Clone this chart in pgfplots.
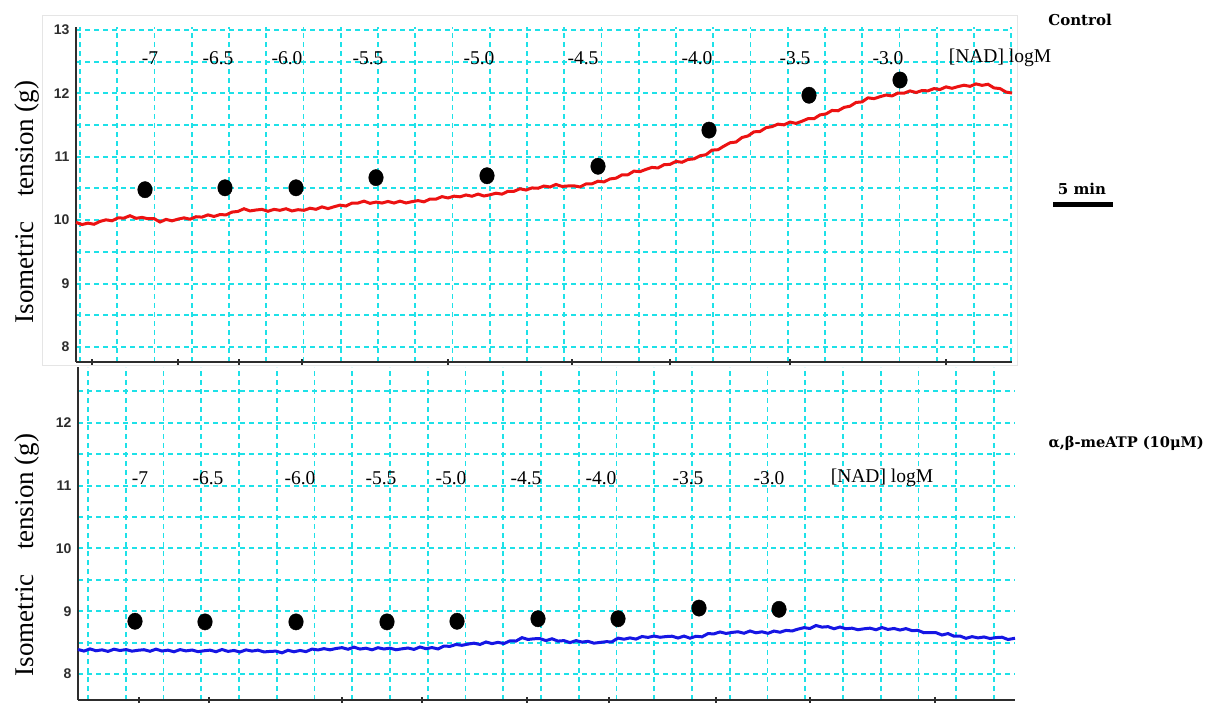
\documentclass[border=0pt]{standalone}
\usepackage{fontspec}
\setmainfont{Liberation Serif}
\newfontfamily\ticksans{Liberation Sans}
\newfontfamily\headserif{DejaVu Serif}
\usepackage{graphicx}
\usepackage{pgfplots}
\pgfplotsset{compat=1.18}

\definecolor{gridcyan}{RGB}{30,225,232}
\definecolor{tracered}{RGB}{236,18,18}
\definecolor{traceblue}{RGB}{22,22,228}
\definecolor{axisgray}{RGB}{45,45,45}

\newcommand{\conc}{\fontsize{19.5}{19.5}\selectfont}

\pgfplotsset{
  tracepanel/.style={
    scale only axis,
    clip=false,
    axis x line*=bottom,
    axis y line*=left,
    axis line style={axisgray, line width=1.7pt},
    xmin=0,
    tick align=center,
    major tick length=6pt,
    minor tick length=0pt,
    xtick style={axisgray, line width=1.8pt},
    ytick style={draw=none},
    xticklabels={},
    xmajorgrids=false, xminorgrids=true,
    ymajorgrids=true, yminorgrids=true,
    major grid style={gridcyan, line width=1.9pt, dash pattern=on 5pt off 4pt},
    minor grid style={gridcyan, line width=1.9pt, dash pattern=on 5pt off 4pt},
    /pgf/number format/assume math mode=true,
    yticklabel style={font=\ticksans\bfseries\fontsize{14}{14}\selectfont, text=axisgray},
  },
  dots/.style={only marks, mark=*, mark size=7.3pt,
    mark options={fill=black, draw=black, yscale=1.12}},
}

\begin{document}
\begin{tikzpicture}
\useasboundingbox (0,0) rectangle (1206pt,707pt);

% faint frame of the upper recording
\draw[black!10, line width=0.8pt] (42pt,342pt) rectangle (1017pt,692pt);

% ---------------- Control ----------------
\begin{axis}[tracepanel,
  at={(76pt,345pt)}, anchor=south west,
  width=936pt, height=335pt,
  xmax=936, ymin=7.763, ymax=13.047,
  ytick={8,9,10,11,12,13},
  minor ytick={8.5,9.5,10.5,11.5,12.5},
  xtick={16,102,163,226,372,496,594,714,870},
  minor xtick={4,41.25,...,936},
]
\addplot[tracered, line width=3pt] coordinates {
(0,9.965) (6,9.931) (12,9.953) (18,9.935) (24,9.980) (30,10.005) (36,9.990)
(42,10.035) (48,10.033) (54,10.070) (60,10.029) (66,10.043) (72,10.022)
(78,10.025) (84,9.970) (90,10.012) (96,9.989) (102,10.016) (108,10.036)
(114,10.015) (120,10.054) (126,10.048) (132,10.083) (138,10.058) (144,10.088)
(150,10.083) (156,10.127) (162,10.138) (168,10.180) (174,10.145) (180,10.160)
(186,10.170) (192,10.140) (198,10.170) (204,10.155) (210,10.180) (216,10.145)
(222,10.165) (228,10.155) (234,10.188) (240,10.171) (246,10.209) (252,10.182)
(258,10.211) (264,10.237) (270,10.223) (276,10.269) (282,10.270) (288,10.300)
(294,10.265) (300,10.285) (306,10.270) (312,10.295) (318,10.270) (324,10.300)
(330,10.271) (336,10.292) (342,10.308) (348,10.289) (354,10.333) (360,10.332)
(366,10.371) (372,10.350) (378,10.378) (384,10.368) (390,10.397) (396,10.377)
(402,10.411) (408,10.381) (414,10.400) (420,10.425) (426,10.410) (432,10.455)
(438,10.455) (444,10.495) (450,10.475) (456,10.508) (462,10.503) (468,10.538)
(474,10.523) (480,10.563) (486,10.532) (492,10.539) (498,10.541) (504,10.524)
(510,10.571) (516,10.573) (522,10.614) (528,10.603) (534,10.650) (540,10.662)
(546,10.714) (552,10.716) (558,10.773) (564,10.765) (570,10.801) (576,10.832)
(582,10.823) (588,10.874) (594,10.880) (600,10.926) (606,10.913) (612,10.957)
(618,10.966) (624,11.015) (630,11.032) (636,11.104) (642,11.111) (648,11.168)
(654,11.220) (660,11.232) (666,11.303) (672,11.328) (678,11.393) (684,11.398)
(690,11.458) (696,11.475) (702,11.514) (708,11.503) (714,11.547) (720,11.526)
(726,11.560) (732,11.600) (738,11.600) (744,11.660) (750,11.675) (756,11.730)
(762,11.725) (768,11.778) (774,11.797) (780,11.856) (786,11.865) (792,11.929)
(798,11.916) (804,11.947) (810,11.973) (816,11.959) (822,12.005) (828,12.002)
(834,12.038) (840,12.013) (846,12.044) (852,12.039) (858,12.075) (864,12.060)
(870,12.102) (876,12.079) (882,12.106) (888,12.128) (894,12.110) (900,12.149)
(906,12.126) (912,12.143) (918,12.085) (924,12.075) (930,12.020) (936,12.005)
};
\addplot[dots] coordinates {
(69,10.48) (149,10.51) (220,10.51) (300,10.67) (411,10.70)
(522,10.85) (633,11.42) (733,11.97) (824,12.21)
};
\node[font=\conc] at (axis cs:74,12.56)  {-7};
\node[font=\conc] at (axis cs:142,12.56) {-6.5};
\node[font=\conc] at (axis cs:211,12.56) {-6.0};
\node[font=\conc] at (axis cs:292,12.56) {-5.5};
\node[font=\conc] at (axis cs:403,12.56) {-5.0};
\node[font=\conc] at (axis cs:507,12.56) {-4.5};
\node[font=\conc] at (axis cs:621,12.56) {-4.0};
\node[font=\conc] at (axis cs:719,12.56) {-3.5};
\node[font=\conc] at (axis cs:812,12.56) {-3.0};
\node[font=\conc] at (axis cs:924,12.56) {[NAD] logM};
\end{axis}

% ---------------- alpha,beta-meATP ----------------
\begin{axis}[tracepanel,
  at={(78pt,7pt)}, anchor=south west,
  width=937pt, height=333pt,
  xmax=937, ymin=7.586, ymax=12.889,
  ytick={8,9,10,11,12},
  minor ytick={8.5,9.5,10.5,11.5,12.5},
  xtick={61,131,264,344,449,531,638,732,857},
  minor xtick={10,47.75,...,937},
]
\addplot[traceblue, line width=3pt] coordinates {
(0,8.390) (6,8.365) (12,8.400) (18,8.370) (24,8.385) (30,8.360) (36,8.395)
(42,8.374) (48,8.389) (54,8.364) (60,8.378) (66,8.387) (72,8.362) (78,8.396)
(84,8.366) (90,8.380) (96,8.354) (102,8.389) (108,8.368) (114,8.382) (120,8.356)
(126,8.370) (132,8.380) (138,8.355) (144,8.390) (150,8.360) (156,8.375)
(162,8.350) (168,8.385) (174,8.365) (180,8.380) (186,8.351) (192,8.360)
(198,8.364) (204,8.337) (210,8.378) (216,8.354) (222,8.375) (228,8.356)
(234,8.397) (240,8.383) (246,8.404) (252,8.385) (258,8.406) (264,8.420)
(270,8.394) (276,8.428) (282,8.397) (288,8.411) (294,8.385) (300,8.419)
(306,8.398) (312,8.412) (318,8.386) (324,8.401) (330,8.414) (336,8.392)
(342,8.430) (348,8.403) (354,8.421) (360,8.399) (366,8.445) (372,8.440)
(378,8.470) (384,8.457) (390,8.476) (396,8.491) (402,8.470) (408,8.510)
(414,8.484) (420,8.504) (426,8.485) (432,8.528) (438,8.525) (444,8.579)
(450,8.550) (456,8.561) (462,8.564) (468,8.532) (474,8.561) (480,8.524)
(486,8.532) (492,8.500) (498,8.532) (504,8.508) (510,8.520) (516,8.491)
(522,8.503) (528,8.514) (534,8.513) (540,8.572) (546,8.554) (552,8.575)
(558,8.556) (564,8.597) (570,8.583) (576,8.604) (582,8.585) (588,8.596)
(594,8.602) (600,8.573) (606,8.604) (612,8.570) (618,8.601) (624,8.592)
(630,8.643) (636,8.639) (642,8.670) (648,8.646) (654,8.662) (660,8.673)
(666,8.649) (672,8.685) (678,8.656) (684,8.672) (690,8.648) (696,8.684)
(702,8.665) (708,8.695) (714,8.685) (720,8.715) (726,8.738) (732,8.725)
(738,8.772) (744,8.747) (750,8.754) (756,8.721) (762,8.748) (768,8.720)
(774,8.730) (780,8.705) (786,8.720) (792,8.730) (798,8.705) (804,8.740)
(810,8.710) (816,8.725) (822,8.700) (828,8.723) (834,8.691) (840,8.694)
(846,8.657) (852,8.660) (858,8.658) (864,8.621) (870,8.644) (876,8.602)
(882,8.605) (888,8.568) (894,8.595) (900,8.575) (906,8.590) (912,8.565)
(918,8.580) (924,8.586) (930,8.549) (937,8.570)
};
\addplot[dots] coordinates {
(57,8.84) (127,8.83) (218,8.83) (309,8.83) (379,8.84)
(460,8.88) (540,8.88) (621,9.05) (701,9.03)
};
\node[font=\conc] at (axis cs:62,11.12)  {-7};
\node[font=\conc] at (axis cs:130,11.12) {-6.5};
\node[font=\conc] at (axis cs:222,11.12) {-6.0};
\node[font=\conc] at (axis cs:303,11.12) {-5.5};
\node[font=\conc] at (axis cs:373,11.12) {-5.0};
\node[font=\conc] at (axis cs:448,11.12) {-4.5};
\node[font=\conc] at (axis cs:523,11.12) {-4.0};
\node[font=\conc] at (axis cs:610,11.12) {-3.5};
\node[font=\conc] at (axis cs:691,11.12) {-3.0};
\node[font=\conc] at (axis cs:804,11.12) {[NAD] logM};
\end{axis}

% axis titles
\node[rotate=90, font=\fontsize{27}{27}\selectfont] at (27pt,505pt)
  {Isometric\hspace{0.9em}tension (g)};
\node[rotate=90, font=\fontsize{27}{27}\selectfont] at (27pt,152pt)
  {Isometric\hspace{0.9em}tension (g)};

% condition names and time scale
\node[font=\headserif\bfseries\fontsize{15}{15}\selectfont] at (1080pt,687pt) {Control};
\node[font=\headserif\bfseries\fontsize{15}{15}\selectfont] at (1082pt,518pt) {5 min};
\fill[black] (1053pt,500pt) rectangle (1113pt,505pt);
\node[anchor=east, inner sep=1pt, font=\headserif\bfseries\fontsize{14.6}{14.6}\selectfont] at (1205pt,264pt)
  {α,β-meATP (10μM)};
\end{tikzpicture}
\end{document}
